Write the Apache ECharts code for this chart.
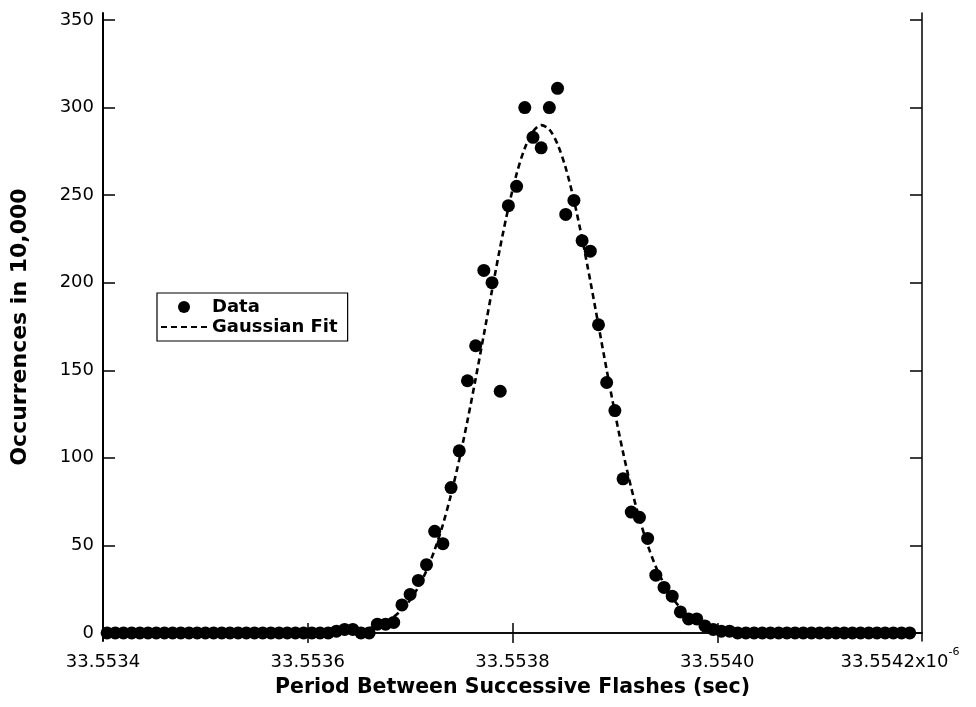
<!DOCTYPE html>
<html><head><meta charset="utf-8">
<script src="https://cdn.jsdelivr.net/npm/echarts@6/dist/echarts.min.js"></script>
<style>html,body{margin:0;padding:0;background:#fff}#c{width:976px;height:707px}</style>
</head><body><div id="c"></div>
<script>
// Period between successive flashes (units of 1e-6 s)
const periods = [
  33.553404, 33.553412, 33.553420, 33.553428, 33.553436, 33.553444, 33.553452, 33.553460, 33.553468, 33.553476,
  33.553484, 33.553492, 33.553500, 33.553508, 33.553516, 33.553524, 33.553532, 33.553540, 33.553548, 33.553556,
  33.553564, 33.553572, 33.553580, 33.553588, 33.553596, 33.553604, 33.553612, 33.553620, 33.553628, 33.553636,
  33.553644, 33.553652, 33.553660, 33.553668, 33.553676, 33.553684, 33.553692, 33.553700, 33.553708, 33.553716,
  33.553724, 33.553732, 33.553740, 33.553748, 33.553756, 33.553764, 33.553772, 33.553780, 33.553788, 33.553796,
  33.553804, 33.553812, 33.553820, 33.553828, 33.553836, 33.553844, 33.553852, 33.553860, 33.553868, 33.553876,
  33.553884, 33.553892, 33.553900, 33.553908, 33.553916, 33.553924, 33.553932, 33.553940, 33.553948, 33.553956,
  33.553964, 33.553972, 33.553980, 33.553988, 33.553996, 33.554004, 33.554012, 33.554020, 33.554028, 33.554036,
  33.554044, 33.554052, 33.554060, 33.554068, 33.554076, 33.554084, 33.554092, 33.554100, 33.554108, 33.554116,
  33.554124, 33.554132, 33.554140, 33.554148, 33.554156, 33.554164, 33.554172, 33.554180, 33.554188
];
// Occurrences (data points)
const occurrences = [
  0, 0, 0, 0, 0, 0, 0, 0, 0, 0,
  0, 0, 0, 0, 0, 0, 0, 0, 0, 0,
  0, 0, 0, 0, 0, 0, 0, 0, 1, 2,
  2, 0, 0, 5, 5, 6, 16, 22, 30, 39,
  58, 51, 83, 104, 144, 164, 207, 200, 138, 244,
  255, 300, 283, 277, 300, 311, 239, 247, 224, 218,
  176, 143, 127, 88, 69, 66, 54, 33, 26, 21,
  12, 8, 8, 4, 2, 1, 1, 0, 0, 0,
  0, 0, 0, 0, 0, 0, 0, 0, 0, 0,
  0, 0, 0, 0, 0, 0, 0, 0, 0
];
// Gaussian fit curve values read at the same periods
const gaussianFit = [
  0, 0, 0, 0, 0, 0, 0, 0, 0, 0,
  0, 0, 0, 0, 0, 0, 0, 0, 0, 0,
  0, 0, 0, 0, 0, 0, 0.1, 0.2, 0.4, 0.6,
  1.0, 1.7, 2.7, 4.1, 6.2, 9.2, 13.3, 18.8, 26.2, 35.6,
  47.5, 61.9, 79.1, 99.0, 121.2, 145.2, 170.3, 195.7, 220.4, 242.8,
  262.1, 276.8, 286.3, 290.0, 287.5, 279.1, 265.5, 247.1, 225.2, 201.0,
  175.6, 150.2, 125.8, 103.1, 82.8, 65.3, 50.3, 37.8, 28.0, 20.2,
  14.3, 9.9, 6.7, 4.5, 2.9, 1.8, 1.2, 0.7, 0.4, 0.2,
  0.1, 0, 0, 0, 0, 0, 0, 0, 0, 0,
  0, 0, 0, 0, 0, 0, 0, 0, 0
];
const xTicks = [33.5534, 33.5536, 33.5538, 33.5540, 33.5542];
const yTicks = [0, 50, 100, 150, 200, 250, 300, 350];

const FONT = 'DejaVu Sans';
const chart = echarts.init(document.getElementById('c'), null, {renderer: 'canvas'});
const dataPts = periods.map((p, i) => [p, occurrences[i]]);
const fitPts = periods.map((p, i) => [p, gaussianFit[i]]);
const lastX = xTicks[xTicks.length - 1];

chart.setOption({
  animation: false,
  backgroundColor: '#fff',
  grid: {left: 103, right: 54, top: 13, bottom: 66, containLabel: false, outerBoundsMode: 'none'},
  legend: {
    left: 157, top: 293, orient: 'vertical',
    borderColor: '#000', borderWidth: 1.2, backgroundColor: '#fff',
    padding: [5, 10, 5, 3], itemGap: 2, itemWidth: 46, itemHeight: 12,
    textStyle: {fontFamily: FONT, fontWeight: 'bold', fontSize: 18, color: '#000'},
    data: [{name: 'Data', icon: 'circle'}, {name: 'Gaussian Fit', itemStyle: {opacity: 0}}]
  },
  xAxis: [{
    type: 'value', position: 'bottom', min: xTicks[0], max: lastX,
    axisLine: {show: true, lineStyle: {color: '#000', width: 1.5}},
    axisTick: {show: true, inside: true, length: 10, customValues: xTicks.slice(1, -1), lineStyle: {color: '#000', width: 1.5}},
    axisLabel: {
      customValues: xTicks, color: '#000', fontFamily: FONT, fontSize: 18, margin: 6,
      formatter: function (v) {
        const s = v.toFixed(4);
        if (Math.abs(v - lastX) < 1e-7) return '{n|' + s + 'x10}{s|-6}';
        return '{n|' + s + '}';
      },
      rich: {
        n: {fontFamily: FONT, fontSize: 18, color: '#000', lineHeight: 24, verticalAlign: 'bottom'},
        s: {fontFamily: FONT, fontSize: 11, color: '#000', lineHeight: 12, verticalAlign: 'top', padding: [0, 44, 0, 0]}
      }
    },
    splitLine: {show: false},
    name: 'Period Between Successive Flashes (sec)', nameLocation: 'middle', nameGap: 36,
    nameTextStyle: {fontFamily: FONT, fontWeight: 'bold', fontSize: 20.5, color: '#000'}
  }, {
    type: 'value', position: 'top', min: xTicks[0], max: lastX,
    axisLine: {show: true, lineStyle: {color: '#000', width: 1.5}},
    axisTick: {show: true, inside: true, length: 10, customValues: xTicks.slice(1, -1), lineStyle: {color: '#000', width: 1.5}},
    axisLabel: {show: false}, splitLine: {show: false}
  }],
  yAxis: [{
    type: 'value', position: 'left', min: -4.6, max: 354,
    axisLine: {show: true, lineStyle: {color: '#000', width: 2}},
    axisTick: {show: true, inside: true, length: 12, customValues: yTicks, lineStyle: {color: '#000', width: 1.5}},
    axisLabel: {customValues: yTicks, color: '#000', fontFamily: FONT, fontSize: 18, margin: 9},
    splitLine: {show: false},
    name: 'Occurrences in 10,000', nameLocation: 'middle', nameGap: 72,
    nameTextStyle: {fontFamily: FONT, fontWeight: 'bold', fontSize: 22, color: '#000'}
  }, {
    type: 'value', position: 'right', min: -4.6, max: 354,
    axisLine: {show: true, lineStyle: {color: '#000', width: 1.5}},
    axisTick: {show: true, inside: true, length: 12, customValues: yTicks, lineStyle: {color: '#000', width: 1.5}},
    axisLabel: {show: false}, splitLine: {show: false}
  }],
  series: [{
    name: 'Data', type: 'scatter', xAxisIndex: 0, yAxisIndex: 0,
    data: dataPts, symbol: 'circle', symbolSize: 13,
    itemStyle: {color: '#000', opacity: 1}
  }, {
    name: 'Gaussian Fit', type: 'line', xAxisIndex: 0, yAxisIndex: 0,
    data: fitPts, symbol: 'none', showSymbol: false, smooth: 0.3,
    lineStyle: {color: '#000', width: 2.6, type: [6, 4]},
    itemStyle: {color: '#000'}
  }]
});
</script>
</body></html>
